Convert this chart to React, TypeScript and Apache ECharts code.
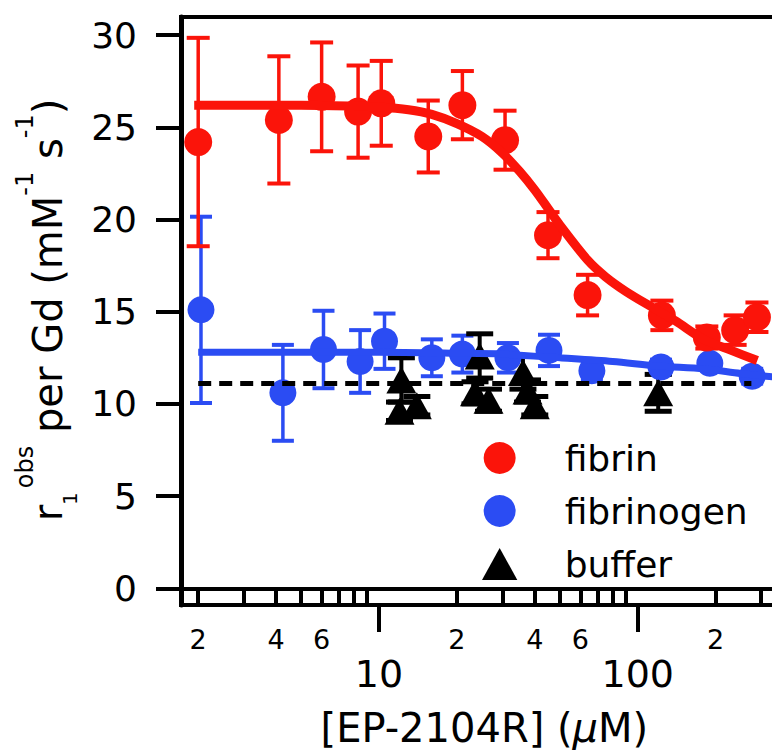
import React, { useEffect, useRef } from 'react';
import * as echarts from 'echarts';

// ---------- data ----------
const fibrinX = [2.0, 4.1, 6.0, 8.3, 10.2, 15.5, 21, 30.7, 45, 64, 124, 185, 238, 289];
const fibrinY = [24.2, 25.4, 26.65, 25.85, 26.3, 24.5, 26.2, 24.3, 19.15, 15.9, 14.8, 13.6, 14.0, 14.7];
const fibrinErr = [5.65, 3.45, 2.95, 2.5, 2.3, 1.95, 1.85, 1.6, 1.25, 1.1, 0.8, 0.6, 0.8, 0.8];

const fibrinogenX = [2.05, 4.25, 6.1, 8.45, 10.5, 16, 21, 31.5, 45.4, 66.5, 123, 190, 277];
const fibrinogenY = [15.1, 10.6, 12.95, 12.3, 13.4, 12.5, 12.7, 12.5, 12.9, 11.8, 12.0, 12.2, 11.5];
const fibrinogenErr = [5.05, 2.6, 2.1, 1.7, 1.5, 1.0, 1.0, 0.8, 0.85, 0.5, 0.4, 0.3, 0.4];

const bufferX = [12.2, 12.0, 14.0, 24.5, 23.5, 26.5, 36, 37.5, 40, 120];
const bufferY = [11.3, 9.6, 9.9, 12.6, 10.6, 10.2, 11.7, 10.7, 9.9, 10.6];
const bufferErr = [1.2, 0.5, 0.5, 1.2, 0.6, 0.6, 0.9, 0.6, 0.5, 1.0];

const fibrinFitX = [1.93, 3, 5, 8, 10, 13, 16, 20, 25, 30, 35, 40, 45, 50, 64, 75, 90, 115, 140, 180, 230, 290];
const fibrinFitY = [26.2, 26.2, 26.2, 26.15, 26.1, 25.95, 25.7, 25.2, 24.5, 23.6, 22.6, 21.6, 20.6, 19.7, 17.8, 16.9, 16.1, 15.2, 14.5, 13.5, 12.9, 12.35];

const fibrinogenFitX = [2.0, 10, 20, 30, 50, 80, 120, 180, 250, 400];
const fibrinogenFitY = [12.8, 12.8, 12.75, 12.7, 12.5, 12.3, 12.05, 11.9, 11.65, 11.35];

const bufferLevelX = [2.0, 275];
const bufferLevel = 11.1;

const yTicks = [0, 5, 10, 15, 20, 25, 30];
const xMinorTicks = [2, 3, 4, 5, 6, 7, 8, 9, 20, 30, 40, 50, 60, 70, 80, 90, 200, 300];
const xMinorLabels = [2, 4, 6, 20, 40, 60, 200];
const xMajorTicks = [10, 100];

// y-axis title pieces: text, font size, shift across the baseline (sub/superscripts)
const yTitleParts = [
  { text: 'r', size: 40, shift: 0, gap: 0 },
  { text: '1', size: 20, shift: 22, gap: 0 },
  { text: 'obs', size: 24, shift: -23, gap: 4 },
  { text: ' per Gd (mM', size: 40, shift: 0, gap: 0 },
  { text: '-1', size: 24, shift: -23, gap: 0 },
  { text: ' s', size: 40, shift: 0, gap: 0 },
  { text: '-1', size: 24, shift: -23, gap: 0 },
  { text: ')', size: 40, shift: 0, gap: 0 },
];

const RED = '#fb140a';
const BLUE = '#2b4cf3';
const BLACK = '#000000';
const FONT = 'DejaVu Sans';

const zip = (xs: number[], ys: number[]) => xs.map((x, i) => [x, ys[i]]);
const errData = (xs: number[], ys: number[], es: number[]) =>
  xs.map((x, i) => [x, ys[i], ys[i] - es[i], ys[i] + es[i]]);

const errorBars = (color: string, capW: number, lw: number, capLw: number) =>
  (params: any, api: any) => {
    const x = api.value(0);
    const lo = api.value(2);
    const hi = api.value(3);
    const top = api.coord([x, hi]);
    const bot = api.coord([x, lo]);
    return {
      type: 'group',
      children: [
        { type: 'line', shape: { x1: top[0], y1: top[1], x2: bot[0], y2: bot[1] }, style: { stroke: color, lineWidth: lw } },
        { type: 'line', shape: { x1: top[0] - capW / 2, y1: top[1], x2: top[0] + capW / 2, y2: top[1] }, style: { stroke: color, lineWidth: capLw } },
        { type: 'line', shape: { x1: bot[0] - capW / 2, y1: bot[1], x2: bot[0] + capW / 2, y2: bot[1] }, style: { stroke: color, lineWidth: capLw } },
      ],
    };
  };

const leadDigit = (v: number) => {
  const p = Math.pow(10, Math.floor(Math.log10(v) + 1e-9));
  return String(Math.round(v / p));
};

const measure = (text: string, size: number) => {
  const c = document.createElement('canvas').getContext('2d');
  if (!c) return text.length * size * 0.6;
  c.font = `${size}px "${FONT}"`;
  return c.measureText(text).width;
};

const buildYTitle = () => {
  const widths = yTitleParts.map((p) => measure(p.text, p.size));
  const total = widths.reduce((a, b) => a + b, 0) + yTitleParts.reduce((a, p) => a + p.gap, 0);
  let pos = -total / 2;
  const children: any[] = [];
  yTitleParts.forEach((p, i) => {
    pos += p.gap;
    children.push({
      type: 'text',
      x: pos,
      y: p.shift,
      style: {
        text: p.text,
        fontSize: p.size,
        fontFamily: FONT,
        fill: BLACK,
        align: 'left',
        verticalAlign: 'middle',
        textAlign: 'left',
        textVerticalAlign: 'middle',
      },
    });
    pos += widths[i];
  });
  return { type: 'group', x: 48, y: 310, rotation: Math.PI / 2, children, silent: true };
};

const X_MIN = 1.716;
const X_MAX = 380;

const TRIANGLE_ICON = 'path://M16,0 L32,29 L0,29 Z';

export default function App() {
  const ref = useRef<HTMLDivElement>(null);
  useEffect(() => {
    if (!ref.current) return;
    const chart = echarts.init(ref.current, null, { renderer: 'svg' });
    const option: any = {
      animation: false,
      backgroundColor: '#ffffff',
      textStyle: { fontFamily: FONT },
      grid: {
        left: 181, top: 17, width: 606.7, height: 588,
        containLabel: false, outerBoundsMode: 'none',
        show: true, borderColor: BLACK, borderWidth: 4, backgroundColor: 'transparent',
      },
      graphic: [buildYTitle()],
      legend: {
        data: [
          { name: 'fibrin', icon: 'circle' },
          { name: 'fibrinogen', icon: 'circle' },
          { name: 'buffer', icon: TRIANGLE_ICON },
        ],
        orient: 'vertical',
        align: 'left',
        left: 482, top: 440, padding: 0,
        itemWidth: 120, itemHeight: 32, itemGap: 17,
        symbolKeepAspect: true,
        selectedMode: false,
        textStyle: { fontSize: 36, color: BLACK, fontFamily: FONT },
      },
      xAxis: [
        {
          type: 'log', logBase: 10, min: X_MIN, max: X_MAX, position: 'bottom',
          axisLine: { show: true, lineStyle: { color: BLACK, width: 4 } },
          axisTick: { show: true, inside: false, length: 16, lineStyle: { color: BLACK, width: 4 }, customValues: xMinorTicks },
          axisLabel: {
            show: true, customValues: xMinorLabels, formatter: (v: number) => leadDigit(v),
            fontSize: 27, color: BLACK, fontFamily: FONT, margin: 21,
          },
          minorTick: { show: false },
          splitLine: { show: false },
          name: '[EP-2104R] ({it|µ}M)',
          nameLocation: 'middle',
          nameGap: 103,
          nameTextStyle: {
            fontSize: 40, color: BLACK, fontFamily: FONT, lineHeight: 40,
            rich: { it: { fontSize: 40, lineHeight: 40, fontStyle: 'italic', fontFamily: FONT, color: BLACK } },
          },
        },
        {
          type: 'log', logBase: 10, min: X_MIN, max: X_MAX, position: 'bottom',
          axisLine: { show: false },
          axisTick: { show: true, inside: false, length: 27, lineStyle: { color: BLACK, width: 4 }, customValues: xMajorTicks },
          axisLabel: {
            show: true, customValues: xMajorTicks, formatter: (v: number) => String(Math.round(v)),
            fontSize: 38, color: BLACK, fontFamily: FONT, margin: 50,
          },
          splitLine: { show: false },
        },
      ],
      yAxis: {
        type: 'value', min: -0.905, max: 30.98,
        axisLine: { show: true, lineStyle: { color: BLACK, width: 5 } },
        axisTick: { show: true, inside: false, length: 25, lineStyle: { color: BLACK, width: 4 }, customValues: yTicks },
        axisLabel: { show: true, customValues: yTicks, fontSize: 36, color: BLACK, fontFamily: FONT, margin: 44 },
        splitLine: { show: false },
      },
      series: [
        {
          type: 'custom', name: 'fibrinogen-err', xAxisIndex: 0, yAxisIndex: 0,
          renderItem: errorBars(BLUE, 22, 3.5, 4), data: errData(fibrinogenX, fibrinogenY, fibrinogenErr),
          encode: { x: 0, y: 1 }, clip: false, silent: true,
        },
        {
          type: 'scatter', name: 'fibrinogen', xAxisIndex: 0, data: zip(fibrinogenX, fibrinogenY),
          symbol: 'circle', symbolSize: 27, itemStyle: { color: BLUE, opacity: 1 }, silent: true,
        },
        {
          type: 'line', name: 'fibrinogen fit', xAxisIndex: 0, data: zip(fibrinogenFitX, fibrinogenFitY),
          symbol: 'none', lineStyle: { color: BLUE, width: 7 }, smooth: 0.3, silent: true,
        },
        {
          type: 'line', name: 'buffer mean', xAxisIndex: 0, data: bufferLevelX.map((x) => [x, bufferLevel]),
          symbol: 'none', lineStyle: { color: BLACK, width: 5, type: [13, 8] }, silent: true,
        },
        {
          type: 'custom', name: 'buffer-err', xAxisIndex: 0, yAxisIndex: 0,
          renderItem: errorBars(BLACK, 27, 4, 5), data: errData(bufferX, bufferY, bufferErr),
          encode: { x: 0, y: 1 }, clip: false, silent: true,
        },
        {
          type: 'scatter', name: 'buffer', xAxisIndex: 0, data: zip(bufferX, bufferY),
          symbol: 'triangle', symbolSize: [30, 27], itemStyle: { color: BLACK, opacity: 1 }, silent: true,
        },
        {
          type: 'custom', name: 'fibrin-err', xAxisIndex: 0, yAxisIndex: 0,
          renderItem: errorBars(RED, 23, 3.5, 4), data: errData(fibrinX, fibrinY, fibrinErr),
          encode: { x: 0, y: 1 }, clip: false, silent: true,
        },
        {
          type: 'scatter', name: 'fibrin', xAxisIndex: 0, data: zip(fibrinX, fibrinY),
          symbol: 'circle', symbolSize: 28, itemStyle: { color: RED, opacity: 1 }, silent: true,
        },
        {
          type: 'line', name: 'fibrin fit', xAxisIndex: 0, data: zip(fibrinFitX, fibrinFitY),
          symbol: 'none', lineStyle: { color: RED, width: 9 }, smooth: 0.3, silent: true,
        },
      ],
    };
    chart.setOption(option);
    return () => chart.dispose();
  }, []);
  return (
    <div style={{ position: 'fixed', left: 0, top: 0, width: 772, height: 750, overflow: 'hidden', background: '#ffffff' }}>
      <div ref={ref} style={{ width: 800, height: 750 }} />
    </div>
  );
}
